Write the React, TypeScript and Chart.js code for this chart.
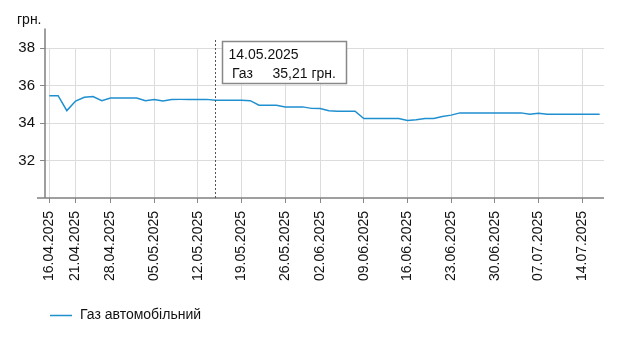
import React, { useEffect, useRef } from 'react';
import { Chart, registerables } from 'chart.js';

Chart.register(...registerables);

const dates: string[] = [
  '16.04.2025', '17.04.2025', '18.04.2025',
  '21.04.2025', '22.04.2025', '23.04.2025', '24.04.2025',
  '28.04.2025', '29.04.2025', '30.04.2025', '01.05.2025', '02.05.2025',
  '05.05.2025', '06.05.2025', '07.05.2025', '08.05.2025', '09.05.2025',
  '12.05.2025', '13.05.2025', '14.05.2025', '15.05.2025', '16.05.2025',
  '19.05.2025', '20.05.2025', '21.05.2025', '22.05.2025', '23.05.2025',
  '26.05.2025', '27.05.2025', '28.05.2025', '29.05.2025',
  '02.06.2025', '03.06.2025', '04.06.2025', '05.06.2025', '06.06.2025',
  '09.06.2025', '10.06.2025', '11.06.2025', '12.06.2025', '13.06.2025',
  '16.06.2025', '17.06.2025', '18.06.2025', '19.06.2025', '20.06.2025',
  '23.06.2025', '24.06.2025', '25.06.2025', '26.06.2025', '27.06.2025',
  '30.06.2025', '01.07.2025', '02.07.2025', '03.07.2025', '04.07.2025',
  '07.07.2025', '08.07.2025', '09.07.2025', '10.07.2025', '11.07.2025',
  '14.07.2025', '15.07.2025', '16.07.2025',
];

const gasPrices: number[] = [
  35.46, 35.46, 34.66,
  35.17, 35.37, 35.41, 35.19,
  35.33, 35.33, 35.33, 35.33, 35.19,
  35.25, 35.18, 35.25, 35.26, 35.26,
  35.26, 35.26, 35.21, 35.21, 35.21,
  35.21, 35.19, 34.95, 34.95, 34.95,
  34.86, 34.86, 34.86, 34.78,
  34.77, 34.65, 34.63, 34.63, 34.63,
  34.24, 34.24, 34.24, 34.24, 34.24,
  34.13, 34.17, 34.24, 34.24, 34.35,
  34.42, 34.54, 34.54, 34.54, 34.54,
  34.54, 34.54, 34.54, 34.54, 34.47,
  34.52, 34.47, 34.47, 34.47, 34.47,
  34.47, 34.47, 34.47,
];

const tickDates: string[] = [
  '16.04.2025', '21.04.2025', '28.04.2025', '05.05.2025', '12.05.2025',
  '19.05.2025', '26.05.2025', '02.06.2025', '09.06.2025', '16.06.2025',
  '23.06.2025', '30.06.2025', '07.07.2025', '14.07.2025',
];

const yTickValues: number[] = [32, 34, 36, 38];
const yMin = 30;
const yMax = 38;

const seriesLabel = 'Газ автомобільний';
const tooltipSeriesLabel = 'Газ';
const unitLabel = 'грн.';
const activeDate = '14.05.2025';

const lineColor = '#1f8fd0';
const FONT = '"Liberation Sans", Arial, sans-serif';

const overlayPlugin = {
  id: 'overlay',
  afterDraw(chart: any) {
    const { ctx, chartArea, scales } = chart;
    const xs = scales.x;
    ctx.save();

    // axis lines
    ctx.strokeStyle = '#808080';
    ctx.lineWidth = 1.5;
    ctx.beginPath();
    ctx.moveTo(chartArea.left, chartArea.top - 19.5);
    ctx.lineTo(chartArea.left, chartArea.bottom);
    ctx.moveTo(chartArea.left - 8, chartArea.bottom);
    ctx.lineTo(chartArea.right, chartArea.bottom);
    ctx.stroke();

    // unit label
    ctx.font = '14px ' + FONT;
    ctx.fillStyle = '#111';
    ctx.textAlign = 'left';
    ctx.textBaseline = 'alphabetic';
    ctx.fillText(unitLabel, 17, 24);

    // active vertical dashed line
    const ai = dates.indexOf(activeDate);
    const px = xs.getPixelForValue(ai);
    const lx = Math.round(px) + 0.5;
    ctx.setLineDash([2, 2]);
    ctx.strokeStyle = '#555';
    ctx.lineWidth = 1;
    ctx.beginPath();
    ctx.moveTo(lx, chartArea.top - 8);
    ctx.lineTo(lx, chartArea.bottom);
    ctx.stroke();
    ctx.setLineDash([]);

    // tooltip box
    const bx = Math.round(px) + 7.5;
    const by = Math.round(chartArea.top) - 6.5;
    const bw = 124;
    const bh = 42;
    ctx.fillStyle = '#fff';
    ctx.fillRect(bx, by, bw, bh);
    ctx.strokeStyle = '#888';
    ctx.lineWidth = 1.5;
    ctx.strokeRect(bx, by, bw, bh);

    ctx.fillStyle = '#111';
    ctx.font = '14px ' + FONT;
    ctx.fillText(dates[ai], bx + 6, by + 17.5);
    ctx.fillText(tooltipSeriesLabel, bx + 9.5, by + 36);
    const valText = gasPrices[ai].toFixed(2).replace('.', ',') + ' ' + unitLabel;
    ctx.fillText(valText, bx + 50, by + 36);

    // legend
    const legY = 315.5;
    ctx.strokeStyle = lineColor;
    ctx.lineWidth = 1.5;
    ctx.beginPath();
    ctx.moveTo(50, legY);
    ctx.lineTo(72, legY);
    ctx.stroke();
    ctx.fillStyle = '#111';
    ctx.textBaseline = 'middle';
    ctx.fillText(seriesLabel, 80, legY);

    ctx.restore();
  },
};

export default function App() {
  const canvasRef = useRef<HTMLCanvasElement | null>(null);

  useEffect(() => {
    const canvas = canvasRef.current;
    if (!canvas) return;
    const chart = new Chart(canvas, {
      type: 'line',
      data: {
        labels: dates,
        datasets: [
          {
            label: seriesLabel,
            data: gasPrices,
            borderColor: lineColor,
            backgroundColor: lineColor,
            borderWidth: 1.5,
            pointRadius: 0,
            pointHoverRadius: 0,
            tension: 0,
            fill: false,
          },
        ],
      },
      options: {
        animation: false,
        responsive: true,
        maintainAspectRatio: false,
        events: [],
        layout: {
          padding: { left: 0, top: 48, right: 40, bottom: 59 },
        },
        plugins: {
          legend: { display: false },
          tooltip: { enabled: false },
        },
        scales: {
          x: {
            type: 'category',
            offset: true,
            border: { display: false },
            grid: {
              color: '#dcdcdc',
              tickColor: '#888',
              tickLength: 5,
              lineWidth: 1,
              offset: false,
            },
            ticks: {
              autoSkip: false,
              minRotation: 90,
              maxRotation: 90,
              padding: 8,
              color: '#111',
              font: { family: FONT, size: 14 },
              callback: (_v: any, idx: number) =>
                tickDates.includes(dates[idx]) ? dates[idx] : null,
            },
            afterFit: (s: any) => {
              s.height = 100;
            },
          },
          y: {
            min: yMin,
            max: yMax,
            border: { display: false },
            grid: {
              color: '#dcdcdc',
              tickColor: '#888',
              tickLength: 5,
              lineWidth: 1,
            },
            ticks: {
              stepSize: 2,
              padding: 5,
              color: '#111',
              font: { family: FONT, size: 15 },
              callback: (v: any) => (yTickValues.includes(Number(v)) ? String(v) : null),
            },
            afterFit: (s: any) => {
              s.width = 45;
            },
          },
        },
      },
      plugins: [overlayPlugin],
    });
    return () => chart.destroy();
  }, []);

  return (
    <div style={{ position: 'fixed', left: 0, top: 0, width: 644, height: 357, background: '#fff' }}>
      <canvas ref={canvasRef} />
    </div>
  );
}
